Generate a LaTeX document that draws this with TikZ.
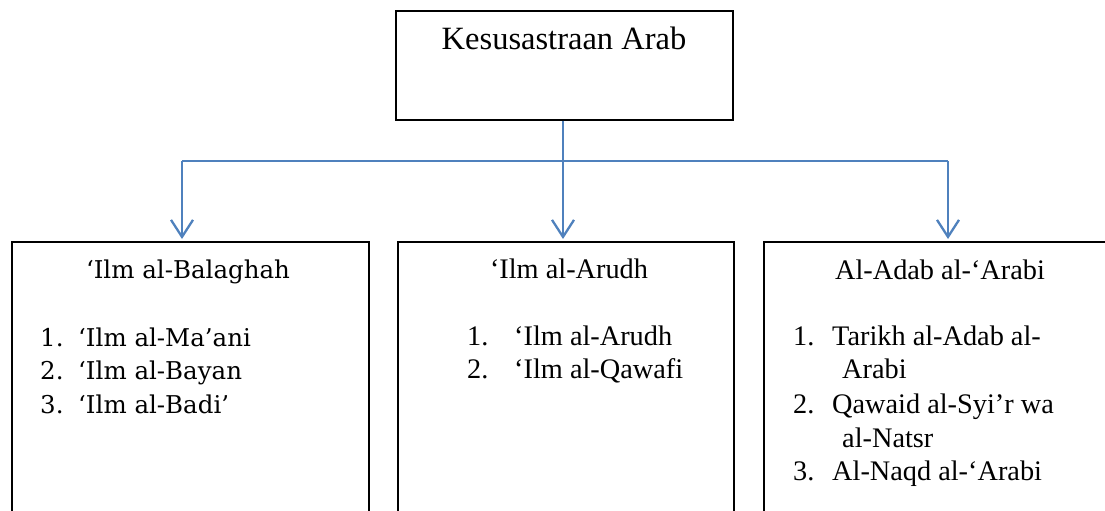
\documentclass[tikz,border=0pt]{standalone}
\usepackage{fontspec}
\setmainfont{Liberation Serif}
\newfontfamily\camb{DejaVu Serif}
\usetikzlibrary{arrows.meta}
\definecolor{linkblue}{HTML}{4F81BD}
\tikzset{
  box/.style={draw=black, line width=1.6pt, minimum width=#1, minimum height=320pt, anchor=north west, inner sep=0pt},
  topbox/.style={draw=black, line width=1.6pt, minimum width=337pt, minimum height=109pt, anchor=north west, inner sep=0pt},
  link/.style={draw=linkblue, line width=2.3pt, -{Straight Barb[length=17pt,width=22pt,line width=2.3pt]}},
  bus/.style={draw=linkblue, line width=2.3pt},
  txt/.style={anchor=base west, inner sep=0pt, font=\fontsize{28.3}{32}\selectfont},
  ttl/.style={anchor=base, inner sep=0pt, font=\fontsize{28.3}{32}\selectfont},
  ctxt/.style={anchor=base west, inner sep=0pt, font=\camb\fontsize{24.5}{28}\selectfont},
  cttl/.style={anchor=base, inner sep=0pt, font=\camb\fontsize{24.5}{28}\selectfont},
}
\begin{document}
\begin{tikzpicture}[x=1pt,y=-1pt]
\useasboundingbox (0,0) rectangle (1105,511);
\clip (0,0) rectangle (1105,511);
% boxes
\node[topbox] (top) at (395,10) {};
\node[box=357pt] (left) at (11,241) {};
\node[box=336pt] (mid) at (397,241) {};
\node[box=360pt] (right) at (763,241) {};
% connectors
\coordinate (hub) at (563,161);
\coordinate (lt) at (182,161);
\coordinate (rt) at (948,161);
\coordinate (ltip) at (182,239);
\coordinate (mtip) at (563,239);
\coordinate (rtip) at (948,239);
\draw[bus] (top.south -| hub) -- (hub);
\draw[bus] (lt) -- (rt);
\draw[link] (lt) -- (ltip);
\draw[link] (hub) -- (mtip);
\draw[link] (rt) -- (rtip);
% top title
\node[anchor=base, inner sep=0pt, font=\fontsize{32.5}{36}\selectfont] (ttitle) at (564,50) {Kesusastraan Arab};
% left box
\node[cttl] (lttl) at (188,278) {‘Ilm al-Balaghah};
\node[ctxt] (l1n) at (40,346) {1.};
\node[ctxt] (l1) at (78,346) {‘Ilm al-Ma’ani};
\node[ctxt] (l2n) at (40,379) {2.};
\node[ctxt] (l2) at (78,379) {‘Ilm al-Bayan};
\node[ctxt] (l3n) at (40,413) {3.};
\node[ctxt] (l3) at (78,413) {‘Ilm al-Badi’};
% middle box
\node[ttl] (mttl) at (569,278) {‘Ilm al-Arudh};
\node[txt] (m1n) at (467,345) {1.};
\node[txt] (m1) at (514,345) {‘Ilm al-Arudh};
\node[txt] (m2n) at (467,378) {2.};
\node[txt] (m2) at (514,378) {‘Ilm al-Qawafi};
% right box
\node[ttl] (rttl) at (940,279) {Al-Adab al-‘Arabi};
\node[txt] (r1n) at (793,345) {1.};
\node[txt] (r1) at (832,345) {Tarikh al-Adab al-};
\node[txt] (r1b) at (842,378) {Arabi};
\node[txt] (r2n) at (793,413) {2.};
\node[txt] (r2) at (832,413) {Qawaid al-Syi’r wa};
\node[txt] (r2b) at (842,447) {al-Natsr};
\node[txt] (r3n) at (793,480) {3.};
\node[txt] (r3) at (832,480) {Al-Naqd al-‘Arabi};
\end{tikzpicture}
\end{document}
